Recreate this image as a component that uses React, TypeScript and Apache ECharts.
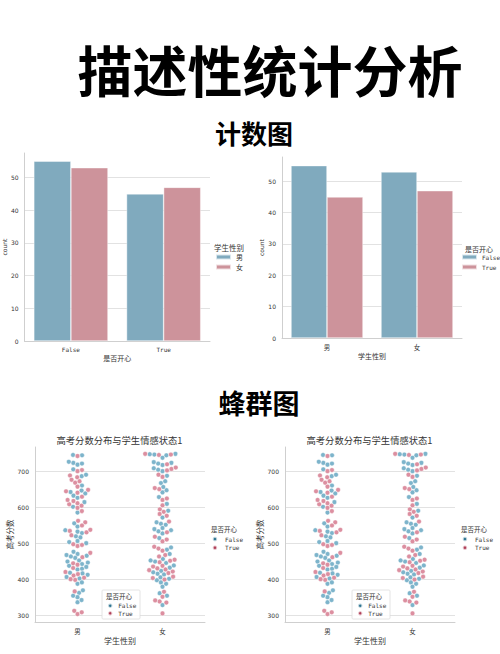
import React, { useEffect, useRef } from 'react';
import * as echarts from 'echarts';

// ---------- data ----------
const happyCats = ['False', 'True'];
const genderCats = ['男', '女'];
// count plot 1: by 是否开心, hue 学生性别
const maleCounts = [55, 45];
const femaleCounts = [53, 47];
// count plot 2: by 学生性别, hue 是否开心
const falseCounts = [55, 53];
const trueCounts = [45, 47];

// swarm plot: 高考分数 by 学生性别, hue 是否开心
const maleFalseScores = [744, 745, 718, 721, 723, 726, 705, 686, 690, 660, 638, 642, 646, 626, 632, 614, 601, 585, 555, 546, 528, 532, 536, 516, 519, 503, 506, 500, 470, 476, 459, 463, 465, 467, 446, 449, 452, 437, 442, 427, 429, 434, 412, 416, 418, 402, 406, 387, 391, 362, 369, 350, 354, 336, 342];
const maleTrueScores = [742, 703, 700, 683, 688, 668, 672, 676, 657, 640, 644, 648, 629, 608, 611, 617, 620, 598, 604, 589, 562, 558, 549, 530, 534, 537, 522, 492, 495, 497, 473, 461, 444, 440, 431, 410, 414, 420, 398, 400, 404, 366, 303, 308, 312];
const femaleFalseScores = [746, 747, 748, 744, 737, 717, 721, 723, 725, 700, 704, 708, 687, 667, 672, 647, 656, 641, 628, 609, 590, 571, 551, 554, 558, 527, 533, 536, 539, 542, 514, 482, 488, 470, 445, 449, 452, 456, 432, 438, 415, 419, 423, 413, 401, 405, 397, 387, 391, 379, 361, 354, 328];
const femaleTrueScores = [745, 748, 746, 719, 702, 706, 710, 684, 690, 650, 653, 620, 624, 605, 587, 594, 581, 576, 560, 530, 505, 510, 518, 479, 485, 490, 463, 467, 447, 451, 454, 430, 435, 437, 417, 421, 425, 427, 399, 403, 407, 365, 351, 335, 338, 341, 305];

// ---------- styles ----------
const BLUE = '#80AABE';
const PINK = '#CD939B';
const SW_BLUE = '#7DB4CB';
const SW_PINK = '#DC8FA0';
const LEG_BLUE = '#2C7390';
const LEG_PINK = '#B03F58';
const CJK = "'Noto Sans CJK SC', sans-serif";
const MONO = "'DejaVu Sans Mono', monospace";
const SANS = "'DejaVu Sans', sans-serif";
const AXIS_C = '#cfcfcf';
const GRID_C = '#e2e2e2';
const TXT = '#333';

const SW_MIN = 281;
const SW_MAX = 767;
const SW_H = 175;
const SW_D = 4.6;

// beeswarm layout: horizontal pixel offsets from the category centre
function swarmOffsets(values: number[], pxPerUnit: number, d: number): number[] {
  const order = values.map((_, i) => i).sort((a, b) => values[a] - values[b]);
  const placed: { x: number; y: number }[] = [];
  const out: number[] = new Array(values.length).fill(0);
  for (const i of order) {
    const y = values[i] * pxPerUnit;
    const near = placed.filter((p) => Math.abs(p.y - y) < d);
    const cands = [0];
    for (const p of near) {
      const dx = Math.sqrt(d * d - (p.y - y) * (p.y - y));
      cands.push(p.x + dx, p.x - dx);
    }
    cands.sort((a, b) => Math.abs(a) - Math.abs(b));
    let x = 0;
    for (const c of cands) {
      if (near.every((p) => (p.x - c) * (p.x - c) + (p.y - y) * (p.y - y) >= d * d - 1e-6)) {
        x = c;
        break;
      }
    }
    placed.push({ x, y });
    out[i] = x;
  }
  return out;
}

function buildSwarm() {
  const ppu = SW_H / (SW_MAX - SW_MIN);
  const groups = [
    [maleFalseScores, maleTrueScores],
    [femaleFalseScores, femaleTrueScores],
  ];
  const falseData: number[][] = [];
  const trueData: number[][] = [];
  groups.forEach((g, ci) => {
    const all = [...g[0], ...g[1]];
    const offs = swarmOffsets(all, ppu, SW_D);
    g[0].forEach((v, k) => falseData.push([ci, v, offs[k]]));
    g[1].forEach((v, k) => trueData.push([ci, v, offs[g[0].length + k]]));
  });
  return { falseData, trueData };
}

function catAxis(gridIndex: number, data: string[], font: string, size: number, margin: number, name: string, nameGap: number, nameSize: number) {
  return {
    type: 'category',
    gridIndex,
    data,
    boundaryGap: true,
    axisLine: { show: true, lineStyle: { color: AXIS_C, width: 1 } },
    axisTick: { show: false },
    axisLabel: { fontFamily: font, fontSize: size, color: TXT, margin },
    splitLine: { show: false },
    name,
    nameLocation: 'middle',
    nameGap,
    nameTextStyle: { fontFamily: CJK, fontSize: nameSize, color: TXT },
  };
}

function countAxis(gridIndex: number, max: number, nameGap: number) {
  return {
    type: 'value',
    gridIndex,
    min: 0,
    max,
    interval: 10,
    axisLine: { show: true, lineStyle: { color: AXIS_C, width: 1 } },
    axisTick: { show: false },
    axisLabel: { fontFamily: SANS, fontSize: 6, color: TXT, margin: 6, showMaxLabel: false },
    splitLine: { show: true, showMaxLine: false, lineStyle: { color: GRID_C, width: 1 } },
    name: 'count',
    nameLocation: 'middle',
    nameGap,
    nameTextStyle: { fontFamily: SANS, fontSize: 6, color: TXT },
  };
}

function scoreAxis(gridIndex: number) {
  return {
    type: 'value',
    gridIndex,
    min: SW_MIN,
    max: SW_MAX,
    axisLine: { show: true, lineStyle: { color: AXIS_C, width: 1 } },
    axisTick: { show: false },
    axisLabel: { fontFamily: SANS, fontSize: 6, color: TXT, margin: 6, showMaxLabel: false, showMinLabel: false },
    splitLine: { show: true, showMaxLine: false, lineStyle: { color: GRID_C, width: 1 } },
    name: '高考分数',
    nameLocation: 'middle',
    nameGap: 18,
    nameTextStyle: { fontFamily: CJK, fontSize: 7.5, color: TXT },
  };
}

function swarmSeries(name: string, idx: number, data: number[][], color: string) {
  return {
    type: 'custom',
    name,
    xAxisIndex: idx,
    yAxisIndex: idx,
    data,
    encode: { x: 0, y: 1 },
    z: 3,
    renderItem: (_params: any, api: any) => {
      const p = api.coord([api.value(0), api.value(1)]);
      return {
        type: 'circle',
        shape: { cx: p[0] + (api.value(2) as number), cy: p[1], r: 2.35 },
        style: { fill: color, stroke: 'rgba(255,255,255,0.9)', lineWidth: 0.5 },
      };
    },
  };
}

function txt(text: string, x: number, y: number, size: number, font: string, weight: any = 'normal', color = TXT, z = 10) {
  return {
    type: 'text',
    x,
    y,
    z,
    style: {
      text,
      fontSize: size,
      fontFamily: font,
      fontWeight: weight,
      fill: color,
      textAlign: 'center',
      textVerticalAlign: 'middle',
      align: 'center',
      verticalAlign: 'middle',
    },
  };
}

function swarmLegends(dx: number) {
  const base = {
    orient: 'vertical',
    padding: 0,
    selectedMode: false,
    textStyle: { fontFamily: MONO, fontSize: 6, color: TXT, lineHeight: 7 },
    data: [
      { name: 'False', icon: 'circle', itemStyle: { color: LEG_BLUE } },
      { name: 'True', icon: 'circle', itemStyle: { color: LEG_PINK } },
    ],
  };
  return [
    { ...base, left: 107 + dx, top: 602.2, itemWidth: 6, itemHeight: 4.4, itemGap: 0.6, z: 6 },
    { ...base, left: 211.7 + dx, top: 535.5, itemWidth: 10, itemHeight: 4.5, itemGap: 1.7 },
  ];
}

export default function App() {
  const ref = useRef<HTMLDivElement>(null);
  useEffect(() => {
    if (!ref.current) return;
    const chart = echarts.init(ref.current, null, { renderer: 'svg' });
    const { falseData, trueData } = buildSwarm();

    const option: any = {
      animation: false,
      backgroundColor: '#ffffff',
      grid: [
        { left: 23, top: 153, width: 187, height: 188 },
        { left: 282, top: 157, width: 180, height: 181 },
        { left: 35, top: 447, width: 170, height: SW_H },
        { left: 285, top: 447, width: 170, height: SW_H },
      ],
      xAxis: [
        catAxis(0, happyCats, MONO, 6, 5, '是否开心', 13, 7),
        catAxis(1, genderCats, CJK, 6.5, 6, '学生性别', 14, 7),
        catAxis(2, genderCats, CJK, 6.5, 6, '学生性别', 14, 8),
        catAxis(3, genderCats, CJK, 6.5, 6, '学生性别', 14, 8),
      ],
      yAxis: [countAxis(0, 57.5, 14.5), countAxis(1, 57.75, 16.5), scoreAxis(2), scoreAxis(3)],
      legend: [
        {
          orient: 'vertical',
          left: 215,
          top: 253,
          padding: 0,
          itemWidth: 15,
          itemHeight: 5,
          itemGap: 2,
          selectedMode: false,
          textStyle: { fontFamily: CJK, fontSize: 7, color: TXT, lineHeight: 8 },
          data: [
            { name: '男', icon: 'rect', itemStyle: { color: BLUE } },
            { name: '女', icon: 'rect', itemStyle: { color: PINK } },
          ],
        },
        {
          orient: 'vertical',
          left: 461,
          top: 253,
          padding: 0,
          itemWidth: 15,
          itemHeight: 5,
          itemGap: 2,
          selectedMode: false,
          textStyle: { fontFamily: MONO, fontSize: 6, color: TXT, lineHeight: 8 },
          data: [
            { name: 'False', icon: 'rect', itemStyle: { color: BLUE } },
            { name: 'True', icon: 'rect', itemStyle: { color: PINK } },
          ],
        },
        ...swarmLegends(0),
        ...swarmLegends(250),
      ],
      graphic: [
        txt('描述性统计分析', 270, 68, 55, CJK, 'bold', '#000'),
        txt('计数图', 254, 132, 26, CJK, 'bold', '#000'),
        txt('蜂群图', 259, 402, 27, CJK, 'bold', '#000'),
        txt('学生性别', 229, 247, 7.5, CJK),
        txt('是否开心', 479, 249, 7, CJK),
        txt('高考分数分布与学生情感状态1', 119.5, 440, 9.3, CJK),
        txt('高考分数分布与学生情感状态1', 369.5, 440, 9.3, CJK),
        { type: 'rect', z: 3, shape: { x: 102, y: 590, width: 38, height: 29, r: 1 }, style: { fill: 'rgba(255,255,255,0.9)', stroke: '#dddddd', lineWidth: 0.8 } },
        { type: 'rect', z: 3, shape: { x: 352, y: 590, width: 38, height: 29, r: 1 }, style: { fill: 'rgba(255,255,255,0.9)', stroke: '#dddddd', lineWidth: 0.8 } },
        txt('是否开心', 119, 596, 6.5, CJK),
        txt('是否开心', 369, 596, 6.5, CJK),
        txt('是否开心', 224, 529.3, 6.5, CJK),
        txt('是否开心', 474, 529.3, 6.5, CJK),
      ],
      series: [
        { type: 'bar', name: '男', xAxisIndex: 0, yAxisIndex: 0, data: maleCounts, barGap: '0%', barCategoryGap: '20%', itemStyle: { color: BLUE, borderColor: 'rgba(255,255,255,0.7)', borderWidth: 0.6 } },
        { type: 'bar', name: '女', xAxisIndex: 0, yAxisIndex: 0, data: femaleCounts, barGap: '0%', barCategoryGap: '20%', itemStyle: { color: PINK, borderColor: 'rgba(255,255,255,0.7)', borderWidth: 0.6 } },
        { type: 'bar', name: 'False', xAxisIndex: 1, yAxisIndex: 1, data: falseCounts, barGap: '0%', barCategoryGap: '20%', itemStyle: { color: BLUE, borderColor: 'rgba(255,255,255,0.7)', borderWidth: 0.6 } },
        { type: 'bar', name: 'True', xAxisIndex: 1, yAxisIndex: 1, data: trueCounts, barGap: '0%', barCategoryGap: '20%', itemStyle: { color: PINK, borderColor: 'rgba(255,255,255,0.7)', borderWidth: 0.6 } },
        swarmSeries('False', 2, falseData, SW_BLUE),
        swarmSeries('True', 2, trueData, SW_PINK),
        swarmSeries('False', 3, falseData, SW_BLUE),
        swarmSeries('True', 3, trueData, SW_PINK),
      ],
    };
    chart.setOption(option);
    return () => chart.dispose();
  }, []);

  return (
    <div
      ref={ref}
      style={{ position: 'absolute', left: 0, top: 0, width: 500, height: 654, background: '#fff' }}
    />
  );
}
